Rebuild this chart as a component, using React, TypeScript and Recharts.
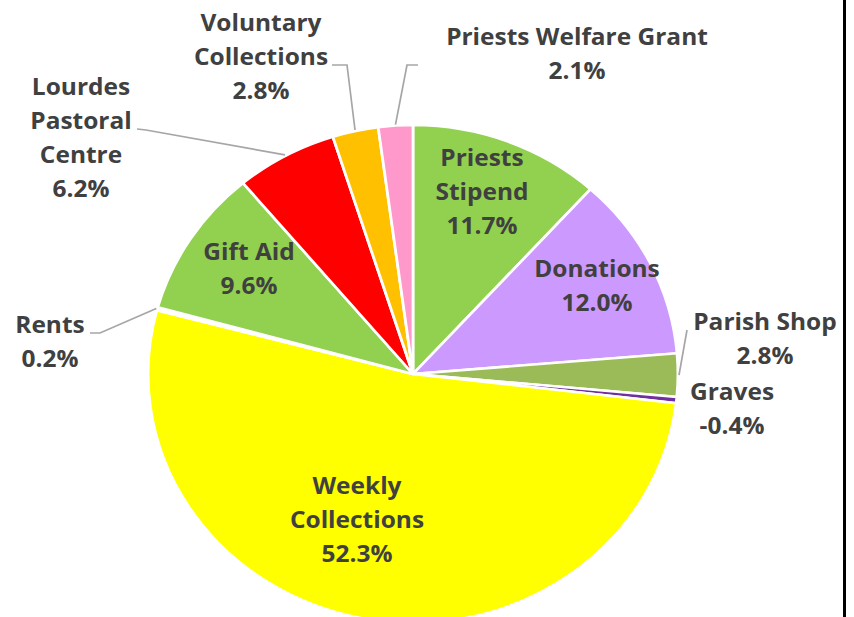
import React from 'react';
import { PieChart, Pie, Cell } from 'recharts';

const CATEGORIES = [
  'Priests Stipend',
  'Donations',
  'Parish Shop',
  'Graves',
  'Weekly Collections',
  'Rents',
  'Gift Aid',
  'Lourdes Pastoral Centre',
  'Voluntary Collections',
  'Priests Welfare Grant',
];
const SHARES = [11.7, 12.0, 2.8, -0.4, 52.3, 0.2, 9.6, 6.2, 2.8, 2.1];
const LABEL_LINES = [
  ['Priests', 'Stipend'],
  ['Donations'],
  ['Parish Shop'],
  ['Graves'],
  ['Weekly', 'Collections'],
  ['Rents'],
  ['Gift Aid'],
  ['Lourdes', 'Pastoral', 'Centre'],
  ['Voluntary', 'Collections'],
  ['Priests Welfare Grant'],
];
const COLORS = [
  '#92D050', '#CC99FF', '#9BBB59', '#7030A0', '#FFFF00',
  '#FFFFFF', '#92D050', '#FF0000', '#FFC000', '#FF99CC',
];

// label block centres, px from pie centre (screen)
const LABEL_POS: [number, number][] = [
  [69, -182], [184, -88], [352, -35], [319, 35], [-56, 146],
  [-363, -32], [-164, -105], [-332, -236], [-152, -317], [164, -320],
];
// leader line knee + end, px from pie centre (null = no line)
const LEADERS: ([number, number][] | null)[] = [
  null, null, [[274, -44]], null, null,
  [[-313, -41], [-323, -41]],
  null,
  [[-267, -244], [-276, -245]],
  [[-66, -309], [-81, -309]],
  [[-6, -309], [5, -309]],
];

const W = 854;
const H = 617;
const CX = 413;
const CY = 374;
const R = 249;
const SX = 1.064; // pie is a bit wider than tall
const LINE_H = 34;
const RAD = Math.PI / 180;

const data = CATEGORIES.map((name, i) => ({
  name,
  size: Math.abs(SHARES[i]),
  share: SHARES[i],
}));

const renderLabel = (props: any) => {
  const { cx, cy, midAngle, outerRadius, index } = props;
  const [dx, dy] = LABEL_POS[index];
  const x = cx + dx / SX;
  const y = cy + dy;
  const lines = [...LABEL_LINES[index], `${SHARES[index].toFixed(1)}%`];
  const top = y - ((lines.length - 1) * LINE_H) / 2;
  const leader = LEADERS[index];
  let path = '';
  if (leader) {
    const sx = cx + (outerRadius + 1) * Math.cos(-midAngle * RAD);
    const sy = cy + (outerRadius + 1) * Math.sin(-midAngle * RAD);
    path = `M${sx},${sy}` + leader.map(([px, py]) => ` L${cx + px / SX},${cy + py}`).join('');
  }
  return (
    <g key={`lbl-${index}`}>
      {leader && <path d={path} stroke="#A6A6A6" strokeWidth={1.6} fill="none" />}
      {lines.map((t, i) => (
        <text
          key={i}
          x={x}
          y={top + i * LINE_H}
          dy="0.36em"
          textAnchor="middle"
          fill="#404040"
          fontFamily="'Open Sans', sans-serif"
          fontWeight={700}
          fontSize={23}
        >
          {t}
        </text>
      ))}
    </g>
  );
};

export default function App() {
  return (
    <div style={{ position: 'absolute', left: 0, top: 0, width: W, height: H, overflow: 'hidden', background: '#fff' }}>
      <div style={{ transform: `scaleX(${SX})`, transformOrigin: `${CX}px ${CY}px`, width: W, height: H }}>
        <PieChart width={W} height={H} margin={{ top: 0, right: 0, bottom: 0, left: 0 }}>
          <Pie
            data={data}
            dataKey="size"
            nameKey="name"
            cx={CX}
            cy={CY}
            outerRadius={R}
            startAngle={90}
            endAngle={-270}
            stroke="#fff"
            strokeWidth={2.6}
            label={renderLabel}
            labelLine={false}
            isAnimationActive={false}
          >
            {data.map((d, i) => (
              <Cell key={`cell-${i}`} fill={COLORS[i]} />
            ))}
          </Pie>
        </PieChart>
      </div>
      <div style={{ position: 'absolute', left: 843, top: 0, width: 3, height: H, background: '#000' }} />
    </div>
  );
}
